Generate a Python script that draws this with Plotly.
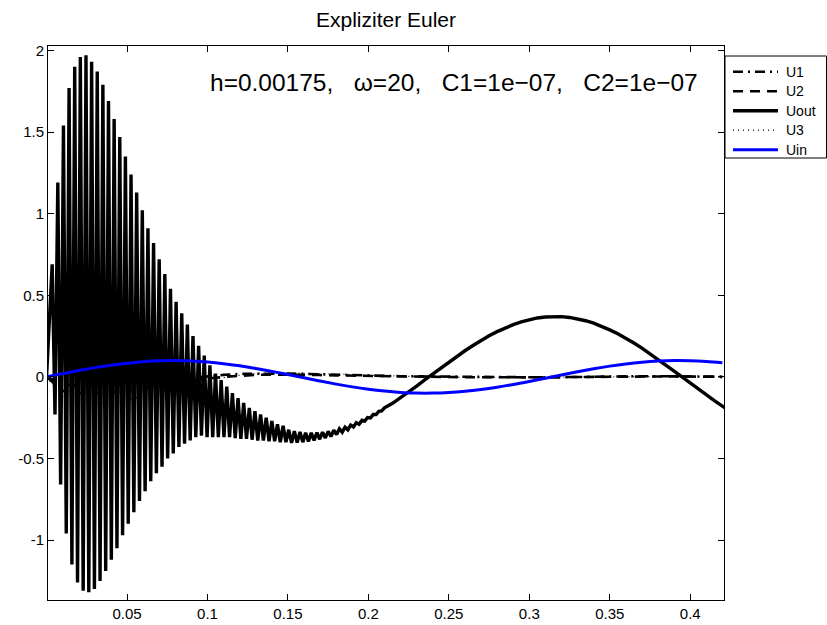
import plotly.graph_objects as go

# ---------------- data ----------------
h = 0.00175          # step size
omega = 20

# Uout: explicit Euler steps n = 0..120 (t = n*h), strongly alternating at start
uout_osc = [
    0.00, 0.40, 0.69, -0.23, 1.19, -0.66, 1.54, -0.96, 1.77, -1.15,
    1.90, -1.26, 1.96, -1.31, 1.97, -1.32, 1.93, -1.30, 1.87, -1.25,
    1.79, -1.19, 1.69, -1.12, 1.58, -1.05, 1.47, -0.97, 1.35, -0.90,
    1.24, -0.83, 1.13, -0.76, 1.02, -0.70, 0.91, -0.64, 0.82, -0.59,
    0.72, -0.55, 0.63, -0.50, 0.54, -0.47, 0.46, -0.43, 0.39, -0.41,
    0.32, -0.39, 0.25, -0.37, 0.19, -0.36, 0.13, -0.37, 0.07, -0.37,
    0.02, -0.37, -0.02, -0.37, -0.06, -0.37, -0.10, -0.375, -0.13, -0.38,
    -0.16, -0.38, -0.19, -0.385, -0.21, -0.39, -0.23, -0.39, -0.25, -0.395,
    -0.27, -0.395, -0.29, -0.40, -0.30, -0.40, -0.324, -0.405, -0.332, -0.403,
    -0.338, -0.400, -0.342, -0.396, -0.343, -0.390, -0.342, -0.382, -0.339, -0.374,
    -0.334, -0.365, -0.327, -0.353, -0.318, -0.339, -0.308, -0.324, -0.296, -0.307,
    -0.281, -0.290, -0.266, -0.271, -0.249, -0.252, -0.231, -0.231, -0.211, -0.209,
    -0.190,
]
t_osc = [n * h for n in range(len(uout_osc))]

# Uout: smooth remainder
t_tail = [0.215, 0.22, 0.225, 0.23, 0.235, 0.24, 0.245, 0.25, 0.255, 0.26,
          0.265, 0.27, 0.275, 0.28, 0.285, 0.29, 0.295, 0.30, 0.305, 0.31,
          0.315, 0.32, 0.325, 0.33, 0.335, 0.34, 0.345, 0.35, 0.355, 0.36,
          0.365, 0.37, 0.375, 0.38, 0.385, 0.39, 0.395, 0.40, 0.405, 0.41,
          0.415, 0.42, 0.425]
uout_tail = [-0.162, -0.128, -0.092, -0.056, -0.019, 0.018, 0.054, 0.091, 0.126, 0.160,
             0.192, 0.223, 0.252, 0.277, 0.300, 0.320, 0.337, 0.351, 0.361, 0.367,
             0.370, 0.369, 0.364, 0.356, 0.344, 0.329, 0.310, 0.288, 0.264, 0.237,
             0.207, 0.176, 0.143, 0.107, 0.071, 0.035, -0.002, -0.039, -0.076, -0.112,
             -0.146, -0.179, -0.211]

# coarse time grid for the other signals
t_c = [0.00, 0.01, 0.02, 0.03, 0.04, 0.05, 0.06, 0.07, 0.08, 0.09,
       0.10, 0.11, 0.12, 0.13, 0.14, 0.15, 0.16, 0.17, 0.18, 0.19,
       0.20, 0.21, 0.22, 0.23, 0.24, 0.25, 0.26, 0.27, 0.28, 0.29,
       0.30, 0.31, 0.32, 0.33, 0.34, 0.35, 0.36, 0.37, 0.38, 0.39,
       0.40, 0.41, 0.42]

uin = [0.0, 0.0199, 0.0389, 0.0565, 0.0717, 0.0841, 0.0932, 0.0985, 0.1000, 0.0974,
       0.0909, 0.0808, 0.0675, 0.0516, 0.0335, 0.0141, -0.0058, -0.0256, -0.0443, -0.0612,
       -0.0757, -0.0872, -0.0952, -0.0994, -0.0996, -0.0959, -0.0884, -0.0773, -0.0631, -0.0465,
       -0.0279, -0.0083, 0.0117, 0.0312, 0.0494, 0.0657, 0.0794, 0.0899, 0.0968, 0.0999,
       0.0989, 0.0941, 0.0865]

u1 = [0.0, -0.045, -0.055, -0.055, -0.05, -0.045, -0.035, -0.025, -0.015, -0.005,
      0.005, 0.012, 0.018, 0.02, 0.022, 0.02, 0.018, 0.015, 0.012, 0.01,
      0.008, 0.006, 0.004, 0.003, 0.002, 0.0, -0.002, -0.003, -0.004, -0.004,
      -0.004, -0.003, -0.002, 0.0, 0.001, 0.002, 0.003, 0.004, 0.004, 0.004,
      0.003, 0.002, 0.001]

u2 = [0.0, -0.085, -0.10, -0.10, -0.095, -0.085, -0.07, -0.055, -0.04, -0.025,
      -0.01, 0.0, 0.008, 0.012, 0.014, 0.014, 0.013, 0.011, 0.009, 0.007,
      0.005, 0.003, 0.002, 0.001, 0.0, -0.001, -0.002, -0.003, -0.003, -0.003,
      -0.003, -0.002, -0.001, 0.0, 0.001, 0.002, 0.003, 0.003, 0.003, 0.003,
      0.002, 0.001, 0.0]

u3 = [0.0, -0.12, -0.15, -0.16, -0.155, -0.14, -0.12, -0.10, -0.075, -0.05,
      -0.025, -0.005, 0.01, 0.02, 0.025, 0.025, 0.022, 0.018, 0.014, 0.01,
      0.007, 0.004, 0.002, 0.0, -0.001, -0.002, -0.003, -0.004, -0.004, -0.004,
      -0.003, -0.002, -0.001, 0.0, 0.001, 0.002, 0.003, 0.004, 0.004, 0.003,
      0.002, 0.001, 0.0]

x_ticks = [0.05, 0.1, 0.15, 0.2, 0.25, 0.3, 0.35, 0.4]
x_tick_text = ["0.05", "0.1", "0.15", "0.2", "0.25", "0.3", "0.35", "0.4"]
y_ticks = [-1, -0.5, 0, 0.5, 1, 1.5, 2]
y_tick_text = ["-1", "-0.5", "0", "0.5", "1", "1.5", "2"]

series_names = ["U1", "U2", "Uout", "U3", "Uin"]

title_text = "Expliziter Euler"
info_text = ("h=0.00175,\u00a0\u00a0\u00a0\u03c9=20,\u00a0\u00a0\u00a0"
             "C1=1e\u221207,\u00a0\u00a0\u00a0C2=1e\u221207")

# ---------------- styles ----------------
FONT = "Liberation Sans, Arial, Helvetica, sans-serif"
styles = {
    "U1": dict(color="black", width=2.6, dash="10px,5px,2px,5px"),
    "U2": dict(color="black", width=2.6, dash="10px,7px"),
    "Uout": dict(color="black", width=3.4),
    "U3": dict(color="black", width=1.2, dash="1px,4px"),
    "Uin": dict(color="#0000ff", width=3),
}

W, H = 827, 625
ML, MR, MT, MB = 48, 103, 46, 25
PW, PH = W - ML - MR, H - MT - MB


def px_x(px):
    return (px - ML) / PW


def px_y(py):
    return (H - MB - py) / PH


fig = go.Figure()
fig.add_trace(go.Scatter(x=t_c, y=u1, mode="lines", name="U1", line=styles["U1"]))
fig.add_trace(go.Scatter(x=t_c, y=u2, mode="lines", name="U2", line=styles["U2"]))
fig.add_trace(go.Scatter(x=t_osc + t_tail, y=uout_osc + uout_tail, mode="lines",
                         name="Uout", line=styles["Uout"]))
fig.add_trace(go.Scatter(x=t_c, y=u3, mode="lines", name="U3", line=styles["U3"]))
fig.add_trace(go.Scatter(x=t_c, y=uin, mode="lines", name="Uin", line_shape="spline",
                         line=styles["Uin"]))

# legend box drawn like the MATLAB legend
shapes = [dict(type="rect", xref="paper", yref="paper",
               x0=px_x(725), x1=px_x(826.5), y0=px_y(158), y1=px_y(56),
               line=dict(color="black", width=1), fillcolor="white", layer="above")]
annotations = []
for i, name in enumerate(series_names):
    yy = px_y(71.7 + 19.5 * i)
    shapes.append(dict(type="line", xref="paper", yref="paper",
                       x0=px_x(733), x1=px_x(778), y0=yy, y1=yy,
                       line=styles[name], layer="above"))
    annotations.append(dict(text=name, xref="paper", yref="paper",
                            x=px_x(784), y=yy, xanchor="left", yanchor="middle",
                            showarrow=False,
                            font=dict(family=FONT, size=14, color="black")))

annotations.append(dict(text=info_text, xref="paper", yref="paper",
                        x=px_x(208), y=px_y(83),
                        xanchor="left", yanchor="middle", showarrow=False,
                        font=dict(family=FONT, size=24.5, color="black")))

axis_common = dict(showgrid=False, zeroline=False, showline=True, linecolor="black",
                   linewidth=1, mirror="ticks", ticks="inside", ticklen=6,
                   tickcolor="black", tickwidth=1,
                   tickfont=dict(family=FONT, size=15, color="black"))

fig.update_layout(
    width=W, height=H,
    margin=dict(l=ML, r=MR, t=MT, b=MB, autoexpand=False),
    paper_bgcolor="white", plot_bgcolor="white",
    font=dict(family=FONT, color="black"),
    title=dict(text=title_text, x=0.5, xref="paper", xanchor="center",
               y=1 - 20 / H, yref="container", yanchor="middle",
               font=dict(family=FONT, size=21, color="black")),
    xaxis=dict(range=[0.0009, 0.421], tickvals=x_ticks, ticktext=x_tick_text, **axis_common),
    yaxis=dict(range=[-1.367, 2.027], tickvals=y_ticks, ticktext=y_tick_text, **axis_common),
    showlegend=False,
    shapes=shapes,
    annotations=annotations,
)

fig.write_html("out.html", config={"displayModeBar": False},
               post_script="document.body.style.margin='0px';")
